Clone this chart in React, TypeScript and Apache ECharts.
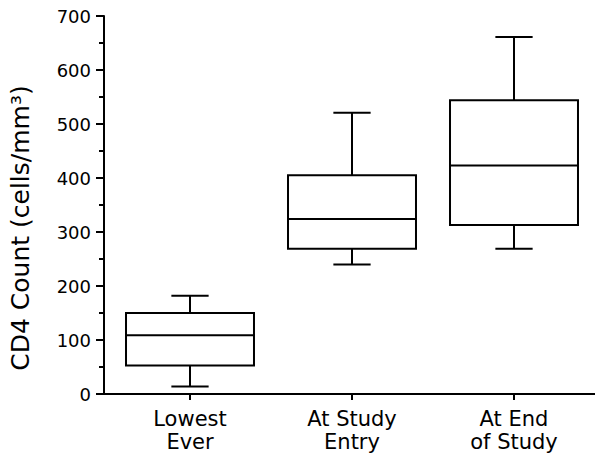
import React, { useEffect, useRef } from "react";
import * as echarts from "echarts";

const categories = ["Lowest\nEver", "At Study\nEntry", "At End\nof Study"];
// [min, Q1, median, Q3, max]
const boxValues = [
  [14, 53, 109, 150, 182],
  [240, 269, 324, 405, 521],
  [269, 313, 423, 544, 661],
];
const yMin = 0;
const yMax = 700;
const yInterval = 100;
const yAxisName = "CD4 Count (cells/mm³)";

const FONT = "DejaVu Sans";
const GRID_LEFT = 109;
const GRID_RIGHT = 0;
const GRID_TOP = 16;
const GRID_BOTTOM = 69;
const Y_OFFSET = 5;
const W = 595;
const H = 463;

export default function App() {
  const ref = useRef<HTMLDivElement>(null);
  useEffect(() => {
    if (!ref.current) return;
    const chart = echarts.init(ref.current, undefined, { renderer: "svg" });
    const data = boxValues.map((b, i) => [i, ...b]);
    chart.setOption({
      animation: false,
      backgroundColor: "#fff",
      grid: { left: GRID_LEFT, right: GRID_RIGHT, top: GRID_TOP, bottom: GRID_BOTTOM, containLabel: false },
      xAxis: {
        type: "category",
        data: categories,
        boundaryGap: true,
        axisLine: { show: true, lineStyle: { color: "#000", width: 2 } },
        axisTick: { show: true, alignWithLabel: true, length: 6, lineStyle: { color: "#000", width: 2 } },
        axisLabel: { color: "#000", fontFamily: FONT, fontSize: 21, lineHeight: 23, margin: 13 },
        splitLine: { show: false },
      },
      yAxis: {
        type: "value",
        min: yMin,
        max: yMax,
        interval: yInterval,
        offset: Y_OFFSET,
        name: yAxisName,
        nameLocation: "middle",
        nameGap: 71,
        nameTextStyle: { color: "#000", fontFamily: FONT, fontSize: 25, padding: [0, 46, 0, 0] },
        axisLine: { show: true, lineStyle: { color: "#000", width: 2 } },
        axisTick: { show: true, length: 8, lineStyle: { color: "#000", width: 2 } },
        minorTick: { show: true, splitNumber: 2, length: 5, lineStyle: { color: "#000", width: 2 } },
        axisLabel: { color: "#000", fontFamily: FONT, fontSize: 18, margin: 13 },
        splitLine: { show: false },
        minorSplitLine: { show: false },
      },
      graphic: [
        {
          type: "line",
          shape: { x1: GRID_LEFT - Y_OFFSET - 1, y1: H - GRID_BOTTOM, x2: GRID_LEFT, y2: H - GRID_BOTTOM },
          style: { stroke: "#000", lineWidth: 2 },
        },
      ],
      series: [
        {
          type: "custom",
          data,
          renderItem: (params: any, api: any) => {
            const x = api.value(0);
            const band = api.size([1, 0])[0];
            const boxW = band * 0.79;
            const capW = band * 0.23;
            const pMin = api.coord([x, api.value(1)]);
            const pQ1 = api.coord([x, api.value(2)]);
            const pMed = api.coord([x, api.value(3)]);
            const pQ3 = api.coord([x, api.value(4)]);
            const pMax = api.coord([x, api.value(5)]);
            const cx = pMed[0];
            const st = { stroke: "#000", lineWidth: 2, fill: "none" };
            return {
              type: "group",
              children: [
                { type: "rect", shape: { x: cx - boxW / 2, y: pQ3[1], width: boxW, height: pQ1[1] - pQ3[1] }, style: { ...st, fill: "#fff" } },
                { type: "line", shape: { x1: cx - boxW / 2, y1: pMed[1], x2: cx + boxW / 2, y2: pMed[1] }, style: st },
                { type: "line", shape: { x1: cx, y1: pQ3[1], x2: cx, y2: pMax[1] }, style: st },
                { type: "line", shape: { x1: cx, y1: pQ1[1], x2: cx, y2: pMin[1] }, style: st },
                { type: "line", shape: { x1: cx - capW / 2, y1: pMax[1], x2: cx + capW / 2, y2: pMax[1] }, style: st },
                { type: "line", shape: { x1: cx - capW / 2, y1: pMin[1], x2: cx + capW / 2, y2: pMin[1] }, style: st },
              ],
            };
          },
        },
      ],
    });
    return () => chart.dispose();
  }, []);
  return <div ref={ref} style={{ position: "fixed", left: 0, top: 0, width: W, height: H }} />;
}
